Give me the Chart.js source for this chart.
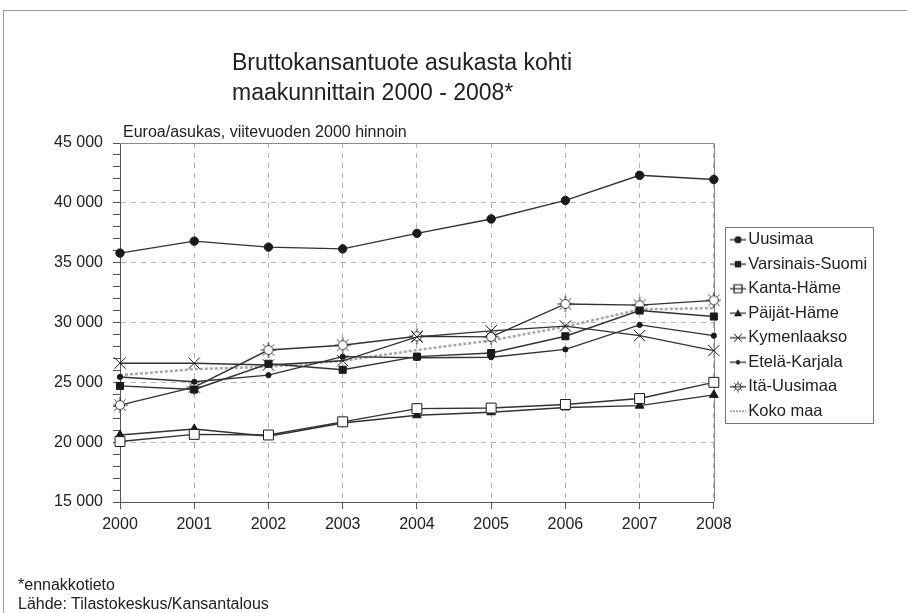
<!DOCTYPE html>
<html>
<head>
<meta charset="utf-8">
<title>Bruttokansantuote asukasta kohti</title>
<script src="https://cdn.jsdelivr.net/npm/chart.js@4.4.1/dist/chart.umd.min.js"></script>
<style>
  html, body { margin: 0; padding: 0; background: #fff; overflow: hidden; }
  #wrap { position: relative; width: 907px; height: 613px; }
  #frame { position: absolute; left: 3px; top: 10px; width: 980px; height: 700px; border: 1px solid #9a9a9a; }
  canvas { position: absolute; left: 0; top: 0; }
  .txt { position: absolute; font-family: 'Liberation Sans', Arial, sans-serif; color: #222; white-space: nowrap; }
  #title { left: 232px; top: 47px; font-size: 23px; line-height: 30px; }
  #unit { left: 123px; top: 123px; font-size: 16px; line-height: 18px; }
  #note { left: 18px; top: 576px; font-size: 16px; line-height: 18.5px; }
</style>
</head>
<body>
<div id="wrap">
  <div id="frame"></div>
  <canvas id="chart" width="907" height="613"></canvas>
  <div class="txt" id="title">Bruttokansantuote asukasta kohti<br>maakunnittain 2000 - 2008*</div>
  <div class="txt" id="unit">Euroa/asukas, viitevuoden 2000 hinnoin</div>
  <div class="txt" id="note">*ennakkotieto<br>Lähde: Tilastokeskus/Kansantalous</div>
</div>
<script>
// euroa / asukas, vuoden 2000 hinnoin
const years = ['2000', '2001', '2002', '2003', '2004', '2005', '2006', '2007', '2008']
const uusimaa = [35800, 36800, 36300, 36150, 37450, 38650, 40200, 42300, 41950]
const varsinaisSuomi = [24700, 24400, 26550, 26050, 27150, 27450, 28850, 31000, 30500]
const kantaHame = [20050, 20650, 20600, 21700, 22800, 22850, 23150, 23650, 25000]
const paijatHame = [20600, 21100, 20500, 21600, 22250, 22500, 22900, 23050, 23950]
const kymenlaakso = [26600, 26600, 26450, 26800, 28800, 29300, 29700, 28900, 27650]
const etelaKarjala = [25450, 25050, 25600, 27150, 27050, 27100, 27750, 29800, 28900]
const itaUusimaa = [23100, 24600, 27700, 28100, 28850, 28800, 31550, 31450, 31850]
const kokoMaa = [25600, 26100, 26300, 26800, 27700, 28500, 29650, 31100, 31200]
const yTicks = [15000, 20000, 25000, 30000, 35000, 40000, 45000]

const FONT = "'Liberation Sans', Arial, sans-serif"
const INK = '#333'

const fmt = (v) => String(v).replace(/\B(?=(\d{3})+(?!\d))/g, ' ')

// hollow "sun" marker used for Itä-Uusimaa
const drawSun = (g, cx, cy, r, ray) => {
  g.strokeStyle = INK
  g.lineWidth = 1
  g.fillStyle = '#fff'
  g.beginPath()
  g.arc(cx, cy, r, 0, Math.PI * 2)
  g.fill()
  g.stroke()
  for (let k = 0; k < 8; k++) {
    const a = (k * Math.PI) / 4
    g.beginPath()
    g.moveTo(cx + Math.cos(a) * (r + 0.5), cy + Math.sin(a) * (r + 0.5))
    g.lineTo(cx + Math.cos(a) * ray, cy + Math.sin(a) * ray)
    g.stroke()
  }
}

const sunPoint = (() => {
  const c = document.createElement('canvas')
  c.width = 18
  c.height = 18
  drawSun(c.getContext('2d'), 9, 9, 4.5, 8)
  return c
})()

// small markers for the legend icons
const drawMarker = (g, kind, cx, cy) => {
  g.fillStyle = '#1a1a1a'
  g.strokeStyle = '#1a1a1a'
  g.lineWidth = 1.2
  g.beginPath()
  if (kind === 'circle') {
    g.arc(cx, cy, 3.6, 0, Math.PI * 2)
    g.fill()
  } else if (kind === 'dot') {
    g.arc(cx, cy, 2.2, 0, Math.PI * 2)
    g.fill()
  } else if (kind === 'rect') {
    g.rect(cx - 3.2, cy - 3.2, 6.4, 6.4)
    g.fill()
  } else if (kind === 'rectOpen') {
    g.fillStyle = '#fff'
    g.rect(cx - 4, cy - 4, 8, 8)
    g.fill()
    g.stroke()
  } else if (kind === 'triangle') {
    g.moveTo(cx, cy - 4)
    g.lineTo(cx + 4, cy + 3)
    g.lineTo(cx - 4, cy + 3)
    g.closePath()
    g.fill()
  } else if (kind === 'cross') {
    g.lineWidth = 1
    g.moveTo(cx - 4, cy - 4)
    g.lineTo(cx + 4, cy + 4)
    g.moveTo(cx + 4, cy - 4)
    g.lineTo(cx - 4, cy + 4)
    g.stroke()
  } else if (kind === 'sun') {
    drawSun(g, cx, cy, 3, 5.5)
  }
}

const makeIcon = (kind, dotted) => {
  const c = document.createElement('canvas')
  c.width = 16
  c.height = 12
  const g = c.getContext('2d')
  drawMarker(g, kind, 8, 6)
  g.strokeStyle = dotted ? '#a8a8a8' : INK
  g.lineWidth = dotted ? 2 : 1.3
  if (dotted) g.setLineDash([2, 1])
  g.beginPath()
  g.moveTo(0, 6)
  g.lineTo(16, 6)
  g.stroke()
  return c
}

const line = (label, data, style, radius, fill) => ({
  label: label,
  data: data,
  borderColor: INK,
  borderWidth: 1.4,
  tension: 0,
  pointStyle: style,
  pointRadius: radius,
  pointBackgroundColor: fill || '#1a1a1a',
  pointBorderColor: '#1a1a1a',
  pointBorderWidth: 1,
})

const onPageLoad = () => {
  const datasets = [
    line('Uusimaa', uusimaa, 'circle', 4.2),
    line('Varsinais-Suomi', varsinaisSuomi, 'rect', 5),
    line('Kanta-Häme', kantaHame, 'rect', 7, '#fff'),
    line('Päijät-Häme', paijatHame, 'triangle', 5),
    line('Kymenlaakso', kymenlaakso, 'crossRot', 8),
    line('Etelä-Karjala', etelaKarjala, 'circle', 2.6),
    line('Itä-Uusimaa', itaUusimaa, sunPoint, 6),
    {
      label: 'Koko maa',
      data: kokoMaa,
      borderColor: '#a8a8a8',
      borderWidth: 2.5,
      borderDash: [3, 2],
      tension: 0,
      pointRadius: 0,
    },
  ]

  const legendIcons = [
    makeIcon('circle'),
    makeIcon('rect'),
    makeIcon('rectOpen'),
    makeIcon('triangle'),
    makeIcon('cross'),
    makeIcon('dot'),
    makeIcon('sun'),
    makeIcon('none', true),
  ]

  // nudges the legend off the plot and draws its box and the plot frame
  const decorations = {
    id: 'decorations',
    afterLayout: (chart) => {
      const lg = chart.legend
      const a = chart.chartArea
      const dx = 728 - lg.left
      lg.left += dx
      lg.right += dx
      lg.top = a.top + 3
      lg.bottom = a.bottom + 3
    },
    beforeDatasetsDraw: (chart) => {
      const { ctx, chartArea: a } = chart
      ctx.save()
      ctx.strokeStyle = '#8a8a8a'
      ctx.lineWidth = 1
      ctx.beginPath()
      ctx.moveTo(a.left, Math.round(a.top) + 0.5)
      ctx.lineTo(Math.round(a.right) + 0.5, Math.round(a.top) + 0.5)
      ctx.lineTo(Math.round(a.right) + 0.5, a.bottom)
      ctx.stroke()
      ctx.restore()
    },
    afterDraw: (chart) => {
      const boxes = chart.legend.legendHitBoxes
      if (!boxes || !boxes.length) return
      const l = Math.min(...boxes.map((b) => b.left)) - 11
      const r = Math.max(...boxes.map((b) => b.left + b.width)) + 6
      const t = Math.min(...boxes.map((b) => b.top)) - 5
      const bt = Math.max(...boxes.map((b) => b.top + b.height)) + 3
      const ctx = chart.ctx
      ctx.save()
      ctx.strokeStyle = '#777'
      ctx.lineWidth = 1
      ctx.strokeRect(Math.round(l) + 0.5, Math.round(t) + 0.5, Math.round(r - l), Math.round(bt - t))
      ctx.restore()
    },
  }

  new Chart(document.getElementById('chart'), {
    type: 'line',
    data: { labels: years, datasets: datasets },
    plugins: [decorations],
    options: {
      responsive: false,
      animation: false,
      events: [],
      layout: { padding: { top: 143, right: 44, bottom: 0, left: 0 } },
      plugins: {
        tooltip: { enabled: false },
        legend: {
          position: 'right',
          labels: {
            usePointStyle: true,
            boxWidth: 4,
            boxHeight: 4,
            padding: 8,
            color: '#222',
            font: { family: FONT, size: 16.5 },
            generateLabels: (chart) => {
              const items = Chart.defaults.plugins.legend.labels.generateLabels(chart)
              items.forEach((it) => {
                it.pointStyle = legendIcons[it.datasetIndex]
              })
              return items
            },
          },
        },
      },
      scales: {
        x: {
          offset: false,
          grid: { color: '#b4b4b4', lineWidth: 1, tickLength: 7, tickColor: '#555' },
          border: { color: '#555', width: 1, dash: [5, 5] },
          ticks: { color: '#222', font: { family: FONT, size: 16 }, padding: 6, maxRotation: 0, autoSkip: false },
          afterFit: (s) => {
            s.height = 111
          },
        },
        y: {
          min: yTicks[0],
          max: yTicks[yTicks.length - 1],
          grid: {
            color: (c) => (c.tick && yTicks.includes(c.tick.value) ? '#b4b4b4' : 'rgba(0,0,0,0)'),
            lineWidth: 1,
            tickLength: 7,
            tickColor: '#555',
          },
          border: { color: '#555', width: 1, dash: [5, 5] },
          ticks: {
            stepSize: 1000,
            autoSkip: false,
            padding: 10,
            color: '#222',
            font: { family: FONT, size: 16 },
            callback: (v) => (yTicks.includes(v) ? fmt(v) : ''),
          },
          afterFit: (s) => {
            s.width = 120
          },
        },
      },
    },
  })
}

document.addEventListener('DOMContentLoaded', onPageLoad)
</script>
</body>
</html>
